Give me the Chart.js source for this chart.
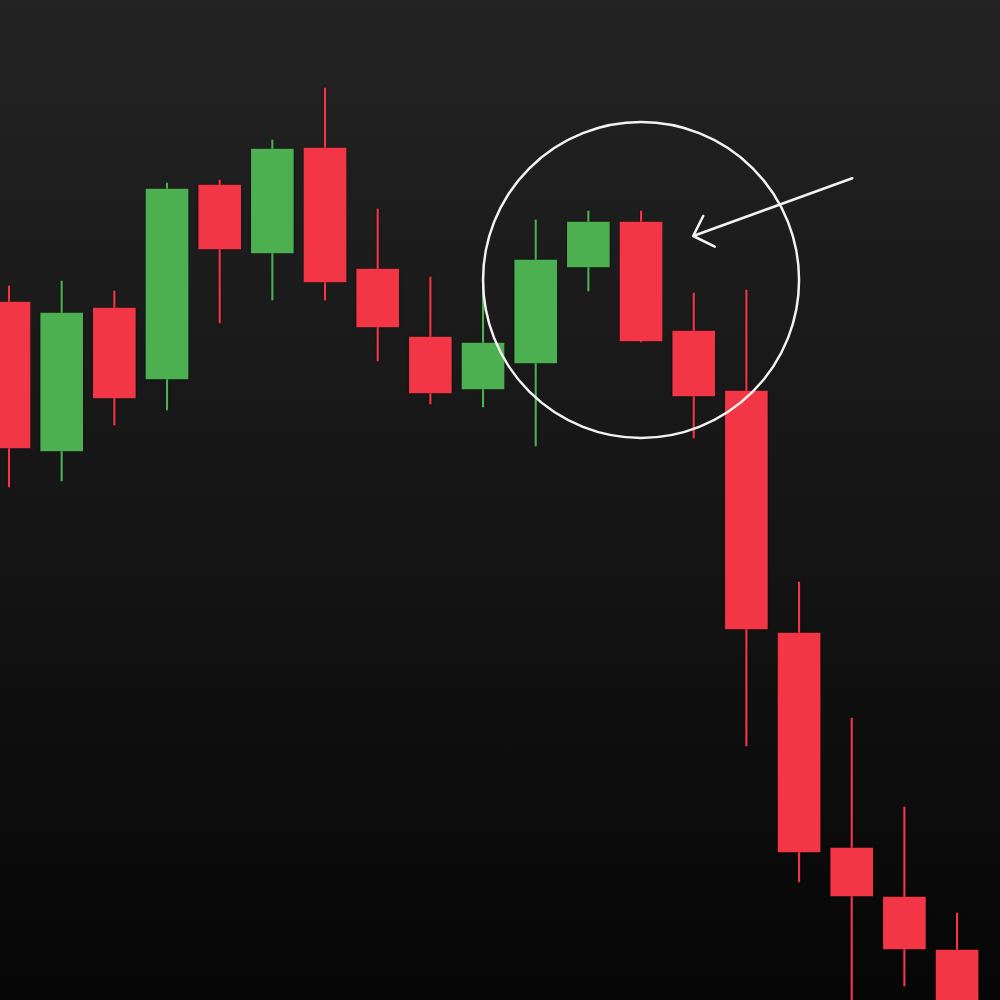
<!DOCTYPE html>
<html>
<head>
<meta charset="utf-8">
<script src="https://cdn.jsdelivr.net/npm/chart.js@4.4.1/dist/chart.umd.min.js"></script>
<style>
  html, body { margin: 0; padding: 0; }
  body { width: 1000px; height: 1000px; overflow: hidden;
         background: linear-gradient(to bottom, #232323 0%, #171717 45%, #060606 100%); }
  #wrap { position: relative; width: 1000px; height: 1000px; }
</style>
</head>
<body>
<div id="wrap"><canvas id="c" width="1000" height="1000"></canvas></div>
<script>
// Candle data (price units)
const candleIndex = [0,1,2,3,4,5,6,7,8,9,10,11,12,13,14,15,16,17,18];
const openPrices  = [69.8, 54.9, 69.2, 62.1, 81.5, 74.7, 85.2, 73.1, 66.3, 61.1, 63.7, 73.3, 77.8, 66.9, 60.9, 36.7, 15.2, 10.3, 5.0];
const highPrices  = [71.4, 71.9, 70.9, 81.7, 82.0, 86.0, 91.2, 79.1, 72.3, 72.3, 78.0, 78.9, 78.9, 70.7, 71.0, 41.8, 28.2, 19.3, 8.7];
const lowPrices   = [51.3, 51.9, 57.5, 59.0, 67.7, 70.0, 70.0, 63.9, 59.6, 59.3, 55.4, 70.9, 65.8, 56.2, 25.4, 11.8, -3.0, 1.4, -5.0];
const closePrices = [55.2, 68.7, 60.2, 81.1, 75.1, 85.1, 71.8, 67.3, 60.7, 65.7, 74.0, 77.8, 65.9, 60.4, 37.1, 14.8, 10.4, 5.1, -3.0];

// Annotation (data units): circle around the top, arrow pointing at it
const circleCenter = { x: 12.0, y: 72.0 };
const circleRadiusX = 3.0;
const arrowStart = { x: 16.01, y: 82.17 };
const arrowTip   = { x: 12.99, y: 76.4 };
const arrowArm1  = { x: 13.18, y: 78.4 };
const arrowArm2  = { x: 13.40, y: 75.33 };

const UP = '#4CAF50';
const DOWN = '#F23645';

const colors = candleIndex.map(i => closePrices[i] >= openPrices[i] ? UP : DOWN);
const bodies = candleIndex.map(i => ({ x: i, y: [openPrices[i], closePrices[i]] }));
const wicks  = candleIndex.map(i => ({ x: i, y: [lowPrices[i], highPrices[i]] }));

const shadowPlugin = {
  id: 'shadow',
  beforeDatasetsDraw(chart) {
    const ctx = chart.ctx;
    ctx.save();
    ctx.shadowColor = 'rgba(0,0,0,0.7)';
    ctx.shadowBlur = 2;
  },
  afterDatasetsDraw(chart) {
    chart.ctx.restore();
  }
};

const annotationPlugin = {
  id: 'annot',
  afterDatasetsDraw(chart) {
    const { ctx, scales: { x, y } } = chart;
    ctx.save();
    ctx.shadowColor = 'transparent';
    ctx.strokeStyle = '#f2f2f2';
    ctx.lineCap = 'round';
    ctx.lineJoin = 'round';
    const cx = x.getPixelForValue(circleCenter.x);
    const cy = y.getPixelForValue(circleCenter.y);
    const r = x.getPixelForValue(circleCenter.x + circleRadiusX) - cx;
    ctx.lineWidth = 2.5;
    ctx.beginPath();
    ctx.arc(cx, cy, r, 0, Math.PI * 2);
    ctx.stroke();
    const P = p => [x.getPixelForValue(p.x), y.getPixelForValue(p.y)];
    const s = P(arrowStart), t = P(arrowTip), a1 = P(arrowArm1), a2 = P(arrowArm2);
    ctx.lineWidth = 2.6;
    ctx.beginPath();
    ctx.moveTo(s[0], s[1]);
    ctx.lineTo(t[0], t[1]);
    ctx.moveTo(a1[0], a1[1]);
    ctx.lineTo(t[0], t[1]);
    ctx.lineTo(a2[0], a2[1]);
    ctx.stroke();
    ctx.restore();
  }
};

new Chart(document.getElementById('c'), {
  type: 'bar',
  data: {
    datasets: [
      {
        label: 'body',
        data: bodies,
        backgroundColor: colors,
        borderColor: colors,
        borderWidth: 0,
        borderSkipped: false,
        barThickness: 42,
        grouped: false
      },
      {
        label: 'wick',
        data: wicks,
        backgroundColor: colors,
        borderWidth: 0,
        barThickness: 1.5,
        grouped: false
      }
    ]
  },
  options: {
    responsive: false,
    animation: false,
    maintainAspectRatio: false,
    layout: { padding: 0 },
    plugins: { legend: { display: false }, tooltip: { enabled: false } },
    scales: {
      x: { type: 'linear', display: false, min: -0.171, max: 18.815, offset: false },
      y: { type: 'linear', display: false, min: 0, max: 100 }
    }
  },
  plugins: [shadowPlugin, annotationPlugin]
});
</script>
</body>
</html>
